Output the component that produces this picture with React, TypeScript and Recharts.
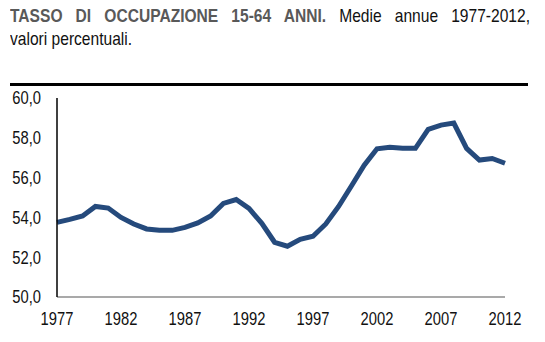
import { LineChart, Line, XAxis, YAxis } from "recharts";

const years = [
  "1977", "1978", "1979", "1980", "1981", "1982", "1983", "1984", "1985", "1986",
  "1987", "1988", "1989", "1990", "1991", "1992", "1993", "1994", "1995", "1996",
  "1997", "1998", "1999", "2000", "2001", "2002", "2003", "2004", "2005", "2006",
  "2007", "2008", "2009", "2010", "2011", "2012",
];

const rates = [
  53.75, 53.9, 54.07, 54.55, 54.47, 54.0, 53.67, 53.42, 53.35, 53.35,
  53.5, 53.72, 54.07, 54.7, 54.9, 54.45, 53.7, 52.75, 52.55, 52.9,
  53.05, 53.67, 54.55, 55.58, 56.62, 57.45, 57.53, 57.47, 57.47, 58.42,
  58.64, 58.74, 57.47, 56.88, 56.96, 56.72,
];

const yTicks = [50, 52, 54, 56, 58, 60];

const data = years.map((year, i) => ({ year, rate: rates[i] }));

const fmt = (v: number) => v.toFixed(1).replace(".", ",");

// no narrow font installed, so squeeze Liberation Sans horizontally
const SQUEEZE = 0.82;
const FONT = "'Liberation Sans', Arial, sans-serif";

function XTick({ x, y, payload }: any) {
  return (
    <text
      transform={`translate(${x},${y}) scale(${SQUEEZE},1)`}
      textAnchor="middle"
      dy="0.71em"
      fontSize={18}
      fontFamily={FONT}
      fill="#111"
    >
      {payload.value}
    </text>
  );
}

function YTick({ x, y, payload }: any) {
  return (
    <text
      transform={`translate(${x},${y}) scale(${SQUEEZE},1)`}
      textAnchor="end"
      dy="0.355em"
      fontSize={18}
      fontFamily={FONT}
      fill="#111"
    >
      {fmt(payload.value)}
    </text>
  );
}

export default function App() {
  return (
    <div style={{ position: "relative", width: 529, height: 326, fontFamily: FONT }}>
      <div
        style={{
          position: "absolute",
          left: 2,
          top: -4,
          width: 520 / SQUEEZE,
          fontSize: 19,
          lineHeight: "23px",
          color: "#111",
          transform: `scale(${SQUEEZE},1)`,
          transformOrigin: "0 0",
        }}
      >
        <div style={{ textAlign: "justify", textAlignLast: "justify" }}>
          <span style={{ fontWeight: "bold", color: "#595959" }}>
            TASSO DI OCCUPAZIONE 15-64 ANNI.
          </span>{" "}
          Medie annue 1977-2012,
        </div>
        <div>valori percentuali.</div>
      </div>
      <div
        style={{
          position: "absolute",
          left: 2,
          top: 75,
          width: 518,
          borderTop: "3px solid #000",
        }}
      />
      <div
        style={{
          position: "absolute",
          left: 2,
          top: 326,
          width: 518,
          borderTop: "3px solid #000",
        }}
      />
      <div style={{ position: "absolute", left: 0, top: 76 }}>
        <LineChart
          width={520}
          height={251}
          data={data}
          margin={{ top: 14, right: 23, bottom: 8, left: 0 }}
        >
          <XAxis
            dataKey="year"
            interval={4}
            tickLine={false}
            tickSize={0}
            tickMargin={15}
            axisLine={{ stroke: "#8c8c8c", strokeWidth: 1.5 }}
            tick={<XTick />}
            height={30}
          />
          <YAxis
            domain={[50, 60]}
            ticks={yTicks}
            tickLine={false}
            tickSize={0}
            tickMargin={16}
            axisLine={{ stroke: "#000", strokeWidth: 1.5 }}
            tick={<YTick />}
            width={49}
          />
          <Line
            type="linear"
            dataKey="rate"
            stroke="#254a7c"
            strokeWidth={5}
            dot={false}
            isAnimationActive={false}
          />
        </LineChart>
      </div>
    </div>
  );
}
